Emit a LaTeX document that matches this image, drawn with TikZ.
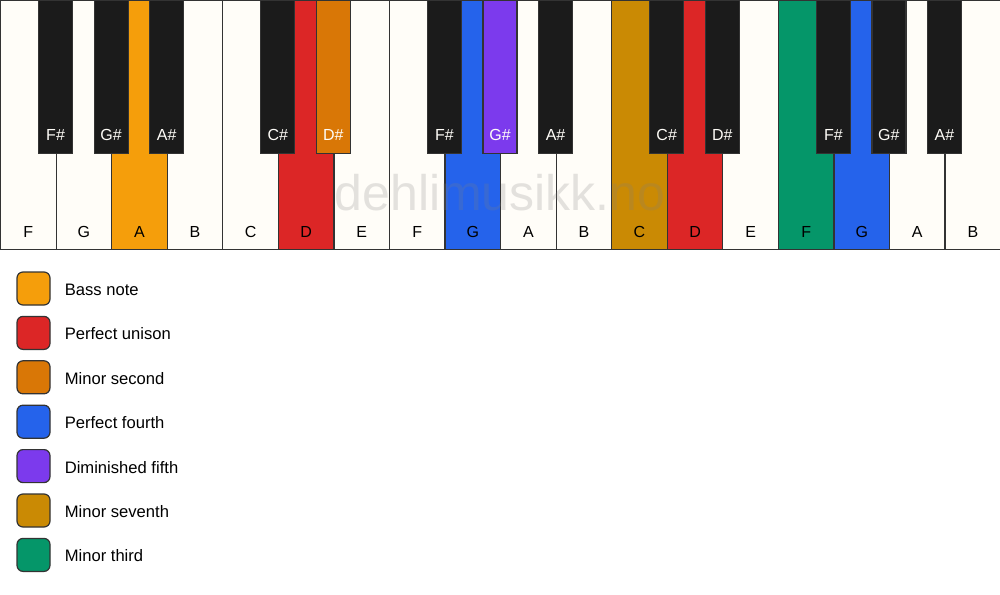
\documentclass[tikz,border=0pt]{standalone}
\usepackage{fontspec}
\setmainfont{Liberation Sans}
\usepackage{xcolor}
\usetikzlibrary{
    positioning
}
\definecolor{keywhite}{HTML}{FFFDF8}
\definecolor{keyblack}{HTML}{1B1B1B}
\definecolor{keyline}{HTML}{333333}
\definecolor{bass}{HTML}{F59E0B}
\definecolor{unison}{HTML}{DC2626}
\definecolor{minsecond}{HTML}{D97706}
\definecolor{fourth}{HTML}{2563EB}
\definecolor{dimfifth}{HTML}{7C3AED}
\definecolor{minseventh}{HTML}{CA8A04}
\definecolor{minthird}{HTML}{059669}
\tikzset{
    wkey/.style 2 args={rectangle, draw=keyline, line width=1.2pt, fill=#2,
        minimum width=55.56pt, minimum height=249pt, anchor=north west, inner sep=0pt,
        label={[anchor=base, yshift=13pt, inner sep=0pt, font=\fontsize{16}{19}\selectfont]south:#1}},
    bkey/.style 2 args={rectangle, draw=keyline, line width=1.2pt, fill=#2,
        minimum width=34pt, minimum height=153pt, anchor=north, inner sep=0pt,
        label={[anchor=base, yshift=14pt, inner sep=0pt, text=keywhite, font=\fontsize{16}{19}\selectfont]south:#1}},
    swatch/.style={rectangle, draw=keyline, line width=1.2pt, fill=#1, rounded corners=6pt,
        minimum size=33pt, inner sep=0pt},
    legtext/.style={inner sep=0pt, yshift=-1pt, font=\fontsize{16.6}{20}\selectfont}
}
\begin{document}
\begin{tikzpicture}[x=1pt, y=-1pt]
    \useasboundingbox[fill=white] (0, 0) rectangle (1000, 594);
    % white keys
    \node[wkey={F}{keywhite}] (wF1) at (0, 0) {};
    \node[wkey={G}{keywhite}] (wG1) at (55.56, 0) {};
    \node[wkey={A}{bass}] (wA1) at (111.11, 0) {};
    \node[wkey={B}{keywhite}] (wB1) at (166.67, 0) {};
    \node[wkey={C}{keywhite}] (wC1) at (222.22, 0) {};
    \node[wkey={D}{unison}] (wD1) at (277.78, 0) {};
    \node[wkey={E}{keywhite}] (wE1) at (333.33, 0) {};
    \node[wkey={F}{keywhite}] (wF2) at (388.89, 0) {};
    \node[wkey={G}{fourth}] (wG2) at (444.44, 0) {};
    \node[wkey={A}{keywhite}] (wA2) at (500, 0) {};
    \node[wkey={B}{keywhite}] (wB2) at (555.56, 0) {};
    \node[wkey={C}{minseventh}] (wC2) at (611.11, 0) {};
    \node[wkey={D}{unison}] (wD2) at (666.67, 0) {};
    \node[wkey={E}{keywhite}] (wE2) at (722.22, 0) {};
    \node[wkey={F}{minthird}] (wF3) at (777.78, 0) {};
    \node[wkey={G}{fourth}] (wG3) at (833.33, 0) {};
    \node[wkey={A}{keywhite}] (wA3) at (888.89, 0) {};
    \node[wkey={B}{keywhite}] (wB3) at (944.44, 0) {};
    % watermark
    \node[anchor=base, text=gray, opacity=0.22, inner sep=0pt,
        font=\fontsize{50}{60}\selectfont] (mark) at (500, 210) {dehlimusikk.no};
    % black keys
    \node[bkey={F\#}{keyblack}] (bFs1) at (55.56, 0) {};
    \node[bkey={G\#}{keyblack}] (bGs1) at (111.11, 0) {};
    \node[bkey={A\#}{keyblack}] (bAs1) at (166.67, 0) {};
    \node[bkey={C\#}{keyblack}] (bCs1) at (277.78, 0) {};
    \node[bkey={D\#}{minsecond}] (bDs1) at (333.33, 0) {};
    \node[bkey={F\#}{keyblack}] (bFs2) at (444.44, 0) {};
    \node[bkey={G\#}{dimfifth}] (bGs2) at (500, 0) {};
    \node[bkey={A\#}{keyblack}] (bAs2) at (555.56, 0) {};
    \node[bkey={C\#}{keyblack}] (bCs2) at (666.67, 0) {};
    \node[bkey={D\#}{keyblack}] (bDs2) at (722.22, 0) {};
    \node[bkey={F\#}{keyblack}] (bFs3) at (833.33, 0) {};
    \node[bkey={G\#}{keyblack}] (bGs3) at (888.89, 0) {};
    \node[bkey={A\#}{keyblack}] (bAs3) at (944.44, 0) {};
    % legend
    \node[swatch=bass] (sw1) at (33.5, 288.5) {};
    \node[legtext, right=14pt of sw1] (lt1) {Bass note};
    \node[swatch=unison] (sw2) at (33.5, 332.9) {};
    \node[legtext, right=14pt of sw2] (lt2) {Perfect unison};
    \node[swatch=minsecond] (sw3) at (33.5, 377.3) {};
    \node[legtext, right=14pt of sw3] (lt3) {Minor second};
    \node[swatch=fourth] (sw4) at (33.5, 421.7) {};
    \node[legtext, right=14pt of sw4] (lt4) {Perfect fourth};
    \node[swatch=dimfifth] (sw5) at (33.5, 466.1) {};
    \node[legtext, right=14pt of sw5] (lt5) {Diminished fifth};
    \node[swatch=minseventh] (sw6) at (33.5, 510.5) {};
    \node[legtext, right=14pt of sw6] (lt6) {Minor seventh};
    \node[swatch=minthird] (sw7) at (33.5, 554.9) {};
    \node[legtext, right=14pt of sw7] (lt7) {Minor third};
\end{tikzpicture}
\end{document}
